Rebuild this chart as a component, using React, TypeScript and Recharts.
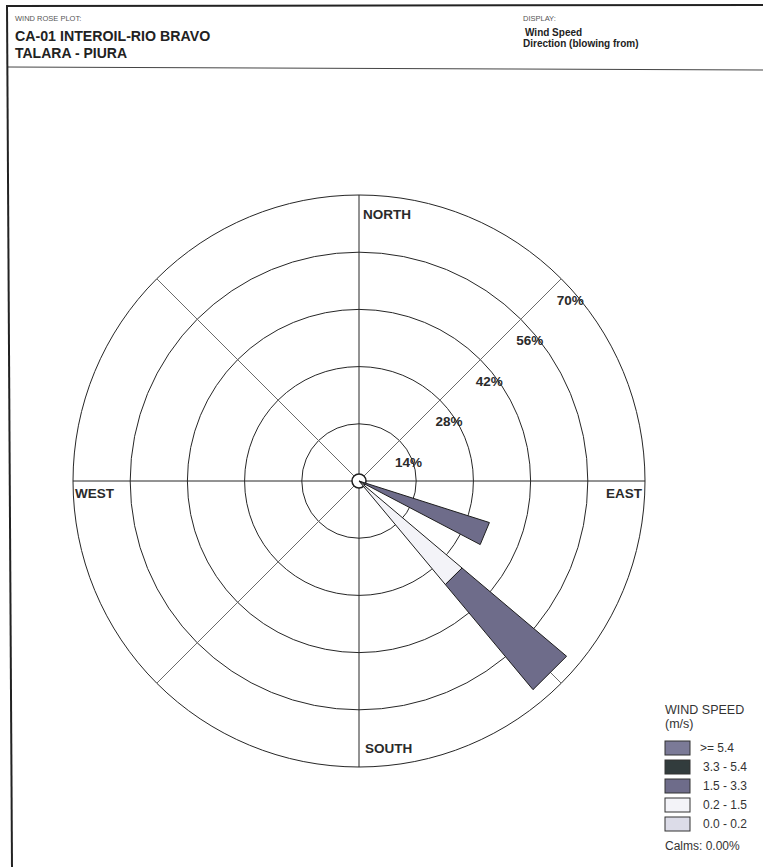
import React from 'react';
import {
  RadialBarChart,
  RadialBar,
  PolarGrid,
  PolarAngleAxis,
  PolarRadiusAxis,
  Legend,
  Customized,
} from 'recharts';

// ---- data ----
const directions = ['N', 'NNE', 'NE', 'ENE', 'E', 'ESE', 'SE', 'SSE', 'S', 'SSW', 'SW', 'WSW', 'W', 'WNW', 'NW', 'NNW'];
const speed00to02 = [0, 0, 0, 0, 0, 0, 0, 0, 0, 0, 0, 0, 0, 0, 0, 0];
const speed02to15 = [0, 0, 0, 0, 0, 0, 33, 0, 0, 0, 0, 0, 0, 0, 0, 0];
const speed15to33 = [0, 0, 0, 0, 0, 33.5, 33.5, 0, 0, 0, 0, 0, 0, 0, 0, 0];
const speed33to54 = [0, 0, 0, 0, 0, 0, 0, 0, 0, 0, 0, 0, 0, 0, 0, 0];
const speed54up = [0, 0, 0, 0, 0, 0, 0, 0, 0, 0, 0, 0, 0, 0, 0, 0];
const ringTicks = [14, 28, 42, 56, 70];
const cardinalNames: Record<string, string> = { N: 'NORTH', E: 'EAST', S: 'SOUTH', W: 'WEST' };
const classKeys = ['s0', 's1', 's2', 's3', 's4'];
const classLabels = ['0.0 - 0.2', '0.2 - 1.5', '1.5 - 3.3', '3.3 - 5.4', '>= 5.4'];
const classColors = ['#dcdce8', '#f3f3f8', '#6e6c8a', '#323c3d', '#7b7a97'];
const calmsText = 'Calms: 0.00%';

const data = directions.map((dir, i) => ({
  dir,
  s0: speed00to02[i],
  s1: speed02to15[i],
  s2: speed15to33[i],
  s3: speed33to54[i],
  s4: speed54up[i],
}));

const FONT = '"Liberation Sans", Arial, sans-serif';
const CX = 359;
const CY = 481;
const HALF_SECTOR = 11.25;

const WedgeShape = (p: any) => {
  const { cx, cy, innerRadius, outerRadius, startAngle, endAngle, fill } = p;
  if (!(outerRadius - innerRadius > 0.01)) return null;
  const pt = (r: number, a: number) =>
    `${cx + r * Math.cos((-a * Math.PI) / 180)},${cy + r * Math.sin((-a * Math.PI) / 180)}`;
  const pts =
    innerRadius > 0.01
      ? [pt(innerRadius, startAngle), pt(outerRadius, startAngle), pt(outerRadius, endAngle), pt(innerRadius, endAngle)]
      : [pt(0, startAngle), pt(outerRadius, startAngle), pt(outerRadius, endAngle)];
  return <polygon points={pts.join(' ')} fill={fill} stroke="#1e1e1e" strokeWidth={1} strokeLinejoin="miter" />;
};

const AngleTick = (p: any) => {
  const { x, y, payload } = p;
  const name = cardinalNames[payload?.value];
  if (!name) return <g />;
  // recharts puts category ticks on the band edge: rotate to the sector centre
  const r = Math.hypot(x - CX, y - CY);
  const a = Math.atan2(CY - y, x - CX) + (HALF_SECTOR * Math.PI) / 180;
  const px = CX + r * Math.cos(a);
  const py = CY - r * Math.sin(a);
  let tx = px;
  let ty = py;
  let anchor: 'start' | 'end' = 'start';
  if (payload.value === 'N') {
    tx = px + 4;
    ty = py + 32;
  } else if (payload.value === 'S') {
    tx = px + 6;
    ty = py - 22;
  } else if (payload.value === 'E') {
    tx = px - 11;
    ty = py + 17;
    anchor = 'end';
  } else {
    tx = px + 10;
    ty = py + 17;
  }
  return (
    <text x={tx} y={ty} textAnchor={anchor} fontFamily={FONT} fontWeight="bold" fontSize={13.5} fill="#2a2a2a">
      {name}
    </text>
  );
};

const RingTick = (p: any) => {
  const { x, y, payload } = p;
  return (
    <text x={x + 9} y={y + 26} textAnchor="middle" fontFamily={FONT} fontWeight="bold" fontSize={13.5} fill="#2a2a2a">
      {`${payload.value}%`}
    </text>
  );
};

const LegendBox = () => (
  <svg width={103} height={160} style={{ display: 'block' }}>
    <text x={5} y={16} fontFamily={FONT} fontSize={12.5} fill="#333">WIND SPEED</text>
    <text x={5} y={30} fontFamily={FONT} fontSize={12.5} fill="#333">(m/s)</text>
    {classLabels
      .map((label, i) => ({ label, color: classColors[i] }))
      .reverse()
      .map((c, i) => (
        <g key={c.label}>
          <rect x={5} y={43 + i * 19} width={25} height={14} fill={c.color} stroke="#333" strokeWidth={1} />
          <text x={i === 0 ? 40 : 43} y={54 + i * 19} fontFamily={FONT} fontSize={12} fill="#333">
            {c.label}
          </text>
        </g>
      ))}
    <text x={5} y={152} fontFamily={FONT} fontSize={12} fill="#333">{calmsText}</text>
  </svg>
);

const CenterDot = () => <circle cx={CX} cy={CY} r={7} fill="#fff" stroke="#1e1e1e" strokeWidth={1.5} />;

const Header = () => (
  <svg width={763} height={867} style={{ position: 'absolute', left: 0, top: 0 }}>
    <line x1={7} y1={6} x2={763} y2={5} stroke="#222" strokeWidth={2} />
    <line x1={7} y1={67} x2={763} y2={70} stroke="#444" strokeWidth={1} />
    <line x1={7} y1={5} x2={12} y2={867} stroke="#222" strokeWidth={2} />
    <text x={15} y={21} fontFamily={FONT} fontSize={7.5} fill="#555">WIND ROSE PLOT:</text>
    <text x={15} y={41} fontFamily={FONT} fontSize={14.2} fontWeight="bold" fill="#222">CA-01 INTEROIL-RIO BRAVO</text>
    <text x={15} y={57.5} fontFamily={FONT} fontSize={14} fontWeight="bold" fill="#222">TALARA - PIURA</text>
    <text x={523} y={21} fontFamily={FONT} fontSize={7.5} fill="#555">DISPLAY:</text>
    <text x={525} y={36} fontFamily={FONT} fontSize={10} fontWeight="bold" fill="#222">Wind Speed</text>
    <text x={523} y={47} fontFamily={FONT} fontSize={10} fontWeight="bold" fill="#222">Direction (blowing from)</text>
  </svg>
);

export default function App() {
  return (
    <div style={{ position: 'absolute', left: 0, top: 0, width: 763, height: 867, background: '#fff', overflow: 'hidden' }}>
      <Header />
      <div style={{ position: 'absolute', left: 0, top: 0 }}>
        <RadialBarChart
          width={763}
          height={867}
          data={data}
          cx={CX}
          cy={CY}
          innerRadius={0}
          outerRadius={286}
          startAngle={90 - HALF_SECTOR}
          endAngle={90 - HALF_SECTOR - 360}
          layout="centric"
          barCategoryGap="27%"
          margin={{ top: 0, right: 0, bottom: 0, left: 0 }}
        >
          <PolarGrid gridType="circle" radialLines={false} stroke="#262626" strokeWidth={1} />
          <PolarGrid gridType="circle" polarAngles={[0, 90, 180, 270]} polarRadius={[]} stroke="#262626" strokeWidth={1} />
          <PolarGrid gridType="circle" polarAngles={[45, 135, 225, 315]} polarRadius={[]} stroke="#6a6a6a" strokeWidth={1} />
          <PolarAngleAxis type="category" dataKey="dir" tick={AngleTick} tickLine={false} axisLine={false} tickSize={0} />
          <PolarRadiusAxis
            type="number"
            domain={[0, 70]}
            ticks={ringTicks}
            angle={45}
            axisLine={false}
            tickLine={false}
            tick={RingTick}
          />
          {classKeys.map((k, i) => (
            <RadialBar
              key={k}
              dataKey={k}
              name={classLabels[i]}
              stackId="wind"
              fill={classColors[i]}
              shape={WedgeShape}
              isAnimationActive={false}
            />
          ))}
          <Customized component={CenterDot} />
          <Legend
            layout="vertical"
            align="right"
            verticalAlign="bottom"
            wrapperStyle={{ left: 660, top: 698, right: 'auto', bottom: 'auto', width: 103 }}
            content={() => <LegendBox />}
          />
        </RadialBarChart>
      </div>
    </div>
  );
}
